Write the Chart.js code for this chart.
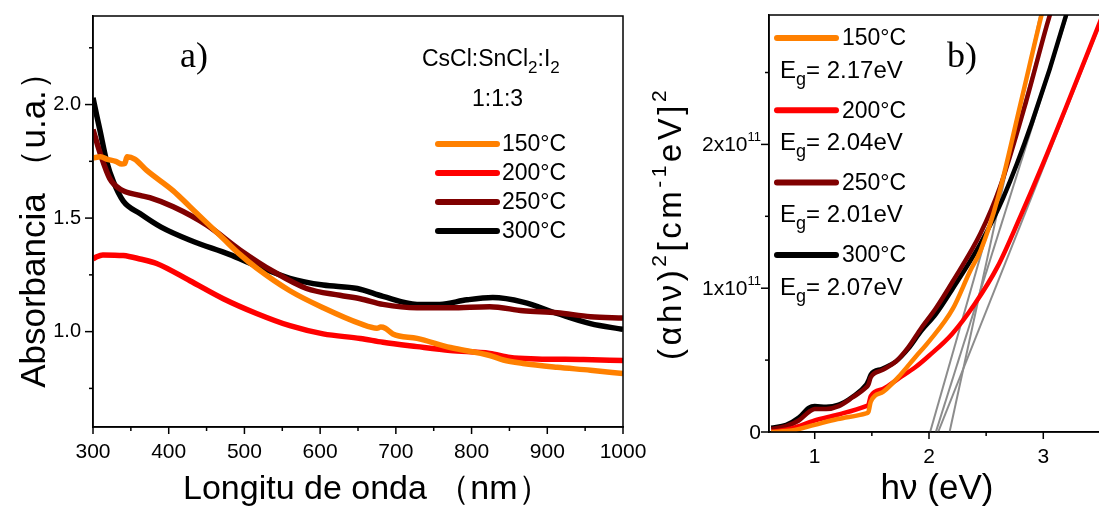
<!DOCTYPE html>
<html>
<head>
<style>
  html, body { margin: 0; background: #fff; overflow: hidden; }
  #wrap { position: relative; width: 1099px; height: 506px; overflow: hidden; background: #fff; }
  canvas { position: absolute; top: 0; }
</style>
</head>
<body>
<div id="wrap">
  <canvas id="chartA" width="665" height="506" style="left:0"></canvas>
  <canvas id="chartB" width="470" height="506" style="left:640px"></canvas>
</div>
<script src="https://cdn.jsdelivr.net/npm/chart.js"></script>
<script>
// series shared by both panels
const seriesNames = ["150°C", "200°C", "250°C", "300°C"];
const seriesColors = ["#FF8000", "#FF0000", "#800000", "#000000"];

// panel a) absorbance (u.a.) vs wavelength (nm)
const wl150 = [300, 310, 318, 330, 338, 342, 345, 355, 371, 406, 428, 450, 472, 494, 516, 560, 604, 653, 675, 680, 686, 696, 728, 772, 824, 842, 868, 913, 957, 1000];
const abs150 = [1.765, 1.77, 1.76, 1.75, 1.738, 1.74, 1.77, 1.76, 1.71, 1.62, 1.55, 1.48, 1.41, 1.34, 1.28, 1.18, 1.105, 1.035, 1.015, 1.02, 1.015, 0.99, 0.97, 0.93, 0.895, 0.875, 0.86, 0.843, 0.83, 0.815];
const wl200 = [300, 305, 313, 340, 362, 384, 428, 472, 516, 560, 604, 653, 683, 728, 772, 824, 851, 886, 948, 1000];
const abs200 = [1.32, 1.33, 1.338, 1.335, 1.32, 1.30, 1.224, 1.145, 1.08, 1.026, 0.99, 0.97, 0.953, 0.934, 0.917, 0.904, 0.886, 0.88, 0.877, 0.873];
const wl250 = [300, 310, 322, 336, 362, 375, 406, 450, 494, 538, 582, 626, 653, 683, 728, 772, 824, 868, 913, 957, 1000];
const abs250 = [1.89, 1.78, 1.675, 1.627, 1.60, 1.59, 1.55, 1.47, 1.36, 1.265, 1.19, 1.16, 1.145, 1.12, 1.105, 1.105, 1.11, 1.092, 1.083, 1.066, 1.06];
const wl300 = [300, 305, 309, 318, 327, 340, 362, 390, 430, 480, 516, 560, 604, 649, 683, 728, 758, 794, 828, 868, 913, 957, 1000];
const abs300 = [2.03, 1.95, 1.89, 1.75, 1.66, 1.575, 1.52, 1.46, 1.40, 1.34, 1.29, 1.235, 1.205, 1.19, 1.155, 1.12, 1.12, 1.14, 1.15, 1.13, 1.08, 1.035, 1.01];

// panel b) (alpha h nu)^2 in units of 1e11 vs photon energy (eV)
const ev150 = [0.62, 0.8, 1.0, 1.2, 1.45, 1.47, 1.49, 1.6, 1.73, 1.88, 2.0, 2.21, 2.36, 2.45, 2.6, 2.8, 3.0, 3.05];
const tauc150 = [0.0, 0.01, 0.05, 0.09, 0.13, 0.14, 0.21, 0.28, 0.38, 0.52, 0.63, 0.86, 1.12, 1.26, 1.62, 2.28, 2.95, 3.1];
const ev200 = [0.62, 0.8, 1.0, 1.2, 1.45, 1.47, 1.49, 1.6, 1.73, 1.88, 2.0, 2.2, 2.4, 2.6, 2.8, 3.0, 3.2, 3.5, 3.6];
const tauc200 = [0.0, 0.025, 0.08, 0.12, 0.18, 0.19, 0.25, 0.30, 0.37, 0.45, 0.53, 0.68, 0.89, 1.15, 1.50, 1.87, 2.26, 2.86, 3.06];
const ev250 = [0.62, 0.75, 0.86, 0.95, 1.0, 1.1, 1.21, 1.33, 1.45, 1.47, 1.49, 1.59, 1.71, 1.82, 1.93, 2.06, 2.21, 2.45, 2.62, 2.85, 3.05, 3.1];
const tauc250 = [0.02, 0.04, 0.08, 0.14, 0.16, 0.16, 0.18, 0.24, 0.31, 0.33, 0.38, 0.43, 0.49, 0.59, 0.72, 0.86, 1.05, 1.38, 1.70, 2.30, 2.88, 3.0];
const ev300 = [0.62, 0.75, 0.86, 0.95, 1.0, 1.1, 1.21, 1.33, 1.45, 1.47, 1.49, 1.59, 1.71, 1.82, 1.93, 2.06, 2.21, 2.45, 2.65, 2.9, 3.2, 3.25];
const tauc300 = [0.03, 0.05, 0.10, 0.17, 0.18, 0.175, 0.19, 0.245, 0.33, 0.36, 0.40, 0.44, 0.49, 0.58, 0.70, 0.82, 1.0, 1.31, 1.63, 2.15, 2.9, 3.05];

// linear fits (gray lines): x-intercept and upper end
const gapLabels = ["2.17", "2.04", "2.01", "2.07"];
const fitStartEv = [2.18, 2.08, 2.01, 2.06];
const fitEndEv = [3.0, 3.58, 3.09, 3.25];
const fitEndVal = [3.0, 3.0, 3.0, 3.0];

// tick labels
const aTickX = [300, 400, 500, 600, 700, 800, 900, 1000];
const aTickY = [1.0, 1.5, 2.0];
const bTickX = [1, 2, 3];
const bTickY = [0, 1, 2];
const bTickYMant = ["0", "1x10", "2x10"];
const bTickYExp = ["", "11", "11"];

const SANS = '"Liberation Sans", Arial, sans-serif';
const SERIF = '"Liberation Serif", "Times New Roman", serif';
Chart.defaults.font.family = SANS;
Chart.defaults.color = '#000';

function pts(xs, ys) {
  return xs.map((x, i) => ({ x: x, y: ys[i] }));
}

// text made of normal / subscript / superscript pieces
function richWidth(ctx, parts, size) {
  let w = 0;
  parts.forEach(p => {
    ctx.font = Math.round(p.sub || p.sup ? size * (p.k || 0.72) : size) + 'px ' + SANS;
    w += ctx.measureText(p.t).width;
  });
  return w;
}
function richText(ctx, parts, x, y, size) {
  parts.forEach(p => {
    const small = p.sub || p.sup;
    ctx.font = Math.round(small ? size * (p.k || 0.72) : size) + 'px ' + SANS;
    let dy = 0;
    if (p.sub) dy = size * 0.36;
    if (p.sup) dy = -size * 0.36;
    ctx.fillText(p.t, x, y + dy);
    x += ctx.measureText(p.t).width;
  });
}

// frame around the plot and tick marks (long for labelled ticks, short otherwise)
const framePlugin = {
  id: 'frame',
  afterDraw(chart) {
    const { ctx, chartArea: a } = chart;
    const sx = chart.scales.x, sy = chart.scales.y;
    ctx.save();
    ctx.strokeStyle = '#000';
    ctx.lineWidth = 1.5;
    ctx.strokeRect(a.left, a.top, a.right - a.left, a.bottom - a.top);
    sx.ticks.forEach(t => {
      const p = sx.getPixelForValue(t.value);
      ctx.beginPath();
      ctx.moveTo(p, a.bottom);
      ctx.lineTo(p, a.bottom + (t.label ? 7 : 4));
      ctx.stroke();
    });
    sy.ticks.forEach(t => {
      const p = sy.getPixelForValue(t.value);
      ctx.beginPath();
      ctx.moveTo(a.left, p);
      ctx.lineTo(a.left - (t.label ? 8 : 4), p);
      ctx.stroke();
    });
    ctx.restore();
  }
};

const legendA = {
  id: 'legendA',
  afterDraw(chart) {
    const ctx = chart.ctx;
    ctx.save();
    ctx.fillStyle = '#000';
    ctx.textBaseline = 'middle';
    richText(ctx, [{ t: 'CsCl:SnCl' }, { t: '2', sub: true }, { t: ':I' }, { t: '2', sub: true }], 422, 60, 23);
    ctx.font = '23px ' + SANS;
    ctx.fillText('1:1:3', 472, 100);
    chart.data.datasets.forEach((ds, i) => {
      const y = 144 + 29 * i;
      ctx.strokeStyle = ds.borderColor;
      ctx.lineWidth = 6;
      ctx.lineCap = 'round';
      ctx.beginPath();
      ctx.moveTo(438, y);
      ctx.lineTo(497, y);
      ctx.stroke();
      ctx.font = '23px ' + SANS;
      ctx.fillText(ds.label, 502, y + 1);
    });
    ctx.font = '36px ' + SERIF;
    ctx.fillText('a)', 180, 58);
    // x axis title
    ctx.font = '34px ' + SANS;
    ctx.fillText('Longitu de onda \uFF08nm\uFF09', 183, 490);
    ctx.restore();
  }
};

const legendB = {
  id: 'legendB',
  afterDraw(chart) {
    const ctx = chart.ctx;
    const ox = -640; // canvas B starts at page x 640
    const a = chart.chartArea;
    ctx.save();
    ctx.fillStyle = '#000';
    ctx.textBaseline = 'middle';
    for (let i = 0; i < 4; i++) {
      const ds = chart.data.datasets[i];
      const y = 38 + 72.3 * i;
      ctx.strokeStyle = ds.borderColor;
      ctx.lineWidth = 6;
      ctx.lineCap = 'round';
      ctx.beginPath();
      ctx.moveTo(777 + ox, y);
      ctx.lineTo(836 + ox, y);
      ctx.stroke();
      ctx.font = '23px ' + SANS;
      ctx.fillText(ds.label, 842 + ox, y + 1);
      richText(ctx, [{ t: 'E' }, { t: 'g', sub: true, k: 0.75 }, { t: '= ' + gapLabels[i] + 'eV' }], 780 + ox, y + 33, 24);
    }
    ctx.font = '36px ' + SERIF;
    ctx.fillText('b)', 947 + ox, 58);

    // y tick labels with a real superscript exponent
    const sy = chart.scales.y;
    bTickY.forEach((v, i) => {
      const parts = [{ t: bTickYMant[i] }];
      if (bTickYExp[i]) parts.push({ t: bTickYExp[i], sup: true, k: 0.62 });
      const w = richWidth(ctx, parts, 21);
      richText(ctx, parts, 761 + ox - w, sy.getPixelForValue(v) + 1, 21);
    });

    // rotated y axis title with superscripts
    const parts = [{ t: '(\u03B1h\u03BD)' }, { t: '2', sup: true, k: 0.65 }, { t: '[cm' }, { t: '-1', sup: true, k: 0.65 },
                   { t: 'eV]' }, { t: '2', sup: true, k: 0.65 }];
    ctx.letterSpacing = '3.5px';
    const size = 33;
    const w = richWidth(ctx, parts, size);
    ctx.translate(672 + ox, (a.top + a.bottom) / 2);
    ctx.rotate(-Math.PI / 2);
    richText(ctx, parts, -w / 2, 0, size);
    ctx.restore();
  }
};

const axisCommon = {
  type: 'linear',
  border: { display: true, color: '#000', width: 1.5 },
  grid: { drawOnChartArea: false, drawTicks: true, tickLength: 8, tickColor: 'rgba(0,0,0,0)' }
};

new Chart(document.getElementById('chartA'), {
  type: 'line',
  data: {
    datasets: [
      { label: seriesNames[0], data: pts(wl150, abs150) },
      { label: seriesNames[1], data: pts(wl200, abs200) },
      { label: seriesNames[2], data: pts(wl250, abs250) },
      { label: seriesNames[3], data: pts(wl300, abs300) }
    ].map((d, i) => Object.assign(d, {
      borderColor: seriesColors[i], borderWidth: 5.5, pointRadius: 0,
      cubicInterpolationMode: 'monotone', borderJoinStyle: 'round', fill: false
    }))
  },
  options: {
    responsive: false,
    animation: false,
    layout: { padding: { top: 15, right: 42, left: 0, bottom: 0 } },
    plugins: { legend: { display: false }, tooltip: { enabled: false } },
    scales: {
      x: Object.assign({}, axisCommon, {
        min: 300, max: 1000,
        afterFit(s) { s.height = 79; },
        ticks: {
          stepSize: 50, autoSkip: false, maxRotation: 0, padding: 5,
          font: { size: 21 },
          callback: v => aTickX.includes(v) ? String(v) : ''
        },
        title: { display: false }
      }),
      y: Object.assign({}, axisCommon, {
        min: 0.58, max: 2.39,
        afterFit(s) { s.width = 93; },
        ticks: {
          stepSize: 0.25, autoSkip: false, padding: 4, includeBounds: false,
          font: { size: 20 },
          callback: v => aTickY.some(t => Math.abs(t - v) < 1e-6) ? v.toFixed(1) : ''
        },
        title: { display: true, text: 'Absorbancia \uFF08u.a.\uFF09', font: { size: 35 }, padding: { top: 14 } }
      })
    }
  },
  plugins: [framePlugin, legendA]
});

const curvesB = [
  { label: seriesNames[0], data: pts(ev150, tauc150) },
  { label: seriesNames[1], data: pts(ev200, tauc200) },
  { label: seriesNames[2], data: pts(ev250, tauc250) },
  { label: seriesNames[3], data: pts(ev300, tauc300) }
].map((d, i) => Object.assign(d, {
  borderColor: seriesColors[i], borderWidth: 4.5, pointRadius: 0,
  cubicInterpolationMode: 'monotone', borderJoinStyle: 'round', fill: false
}));

const fitsB = fitStartEv.map((e0, i) => ({
  label: 'fit ' + seriesNames[i],
  data: [{ x: e0, y: 0 }, { x: fitEndEv[i], y: fitEndVal[i] }],
  borderColor: '#8c8c8c', borderWidth: 2, pointRadius: 0, fill: false
}));

new Chart(document.getElementById('chartB'), {
  type: 'line',
  data: { datasets: curvesB.concat(fitsB) },
  options: {
    responsive: false,
    animation: false,
    layout: { padding: { top: 15, right: 5, left: 0, bottom: 0 } },
    plugins: { legend: { display: false }, tooltip: { enabled: false } },
    scales: {
      x: Object.assign({}, axisCommon, {
        min: 0.6, max: 3.54,
        afterFit(s) { s.height = 74; },
        ticks: {
          stepSize: 0.5, autoSkip: false, maxRotation: 0, padding: 5, includeBounds: false,
          font: { size: 21 },
          callback: v => bTickX.includes(v) ? String(v) : ''
        },
        title: { display: true, text: 'h\u03BD (eV)', font: { size: 35 }, padding: { bottom: -4 } }
      }),
      y: Object.assign({}, axisCommon, {
        min: 0, max: 2.9,
        afterFit(s) { s.width = 129; },
        ticks: {
          // labels drawn by legendB with a raised exponent; kept here only to mark long ticks
          stepSize: 0.5, autoSkip: false, padding: 1, includeBounds: false,
          color: 'rgba(0,0,0,0)',
          callback: v => bTickY.some(t => Math.abs(t - v) < 1e-6) ? String(v) : ''
        },
        title: { display: false }
      })
    }
  },
  plugins: [framePlugin, legendB]
});
</script>
</body>
</html>
